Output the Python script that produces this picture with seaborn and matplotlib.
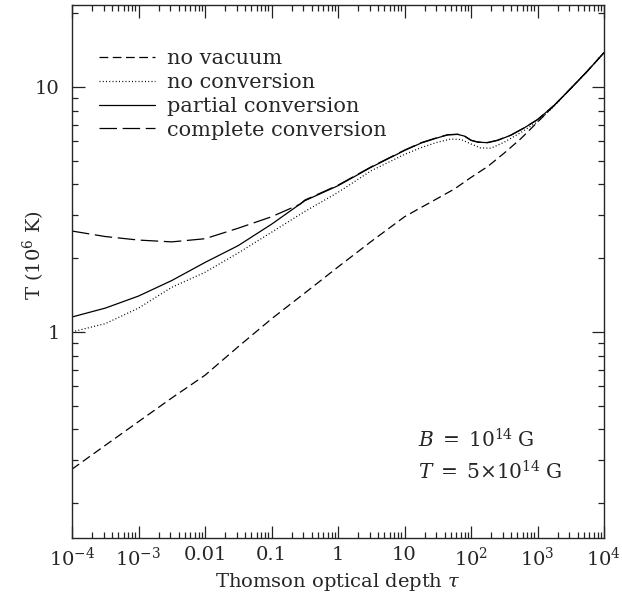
import numpy as np
import pandas as pd
import matplotlib
matplotlib.use("Agg")
import matplotlib.pyplot as plt
import seaborn as sns
from matplotlib.ticker import FixedLocator, FixedFormatter, LogLocator, NullFormatter

# ---------------- data ----------------
log_tau_novac = [-4, -3.5, -3, -2.5, -2, -1.5, -1, -0.5, 0, 0.5, 1, 1.25, 1.5, 1.75, 2, 2.25, 2.5, 2.75, 3, 3.25, 3.5, 3.75, 4]
T_novac = [0.275, 0.344, 0.43, 0.537, 0.665, 0.87, 1.13, 1.44, 1.84, 2.34, 2.95, 3.22, 3.51, 3.83, 4.27, 4.73, 5.37, 6.15, 7.18, 8.4, 9.85, 11.6, 13.8]

log_tau_nocon = [-4, -3.5, -3, -2.5, -2, -1.5, -1, -0.5, 0, 0.5, 1, 1.25, 1.5, 1.7, 1.85, 2.0, 2.14, 2.3, 2.5, 2.74, 3.0, 3.25, 3.5, 3.75, 4]
T_nocon = [1.0, 1.08, 1.25, 1.52, 1.75, 2.1, 2.55, 3.1, 3.71, 4.55, 5.3, 5.65, 5.95, 6.13, 6.1, 5.85, 5.64, 5.62, 5.95, 6.49, 7.2, 8.35, 9.85, 11.6, 13.8]

log_tau_part = [-4, -3.5, -3, -2.5, -2, -1.5, -1, -0.5, 0, 0.5, 1, 1.25, 1.5, 1.65, 1.8, 1.9, 2.0, 2.1, 2.25, 2.4, 2.6, 2.8, 3.0, 3.25, 3.5, 3.75, 4]
T_part = [1.15, 1.25, 1.4, 1.62, 1.92, 2.25, 2.75, 3.43, 3.95, 4.7, 5.5, 5.9, 6.2, 6.37, 6.4, 6.3, 6.05, 5.95, 5.92, 6.05, 6.35, 6.8, 7.35, 8.4, 9.85, 11.6, 13.8]

log_tau_comp = [-4, -3.5, -3, -2.5, -2, -1.5, -1, -0.57, -0.5, 0, 0.5, 1, 1.25, 1.5, 1.65, 1.8, 1.9, 2.0, 2.1, 2.25, 2.4, 2.6, 2.8, 3.0, 3.25, 3.5, 3.75, 4]
T_comp = [2.58, 2.45, 2.37, 2.33, 2.4, 2.65, 2.95, 3.32, 3.45, 3.97, 4.72, 5.52, 5.92, 6.22, 6.38, 6.41, 6.31, 6.06, 5.96, 5.93, 6.06, 6.36, 6.81, 7.36, 8.41, 9.86, 11.6, 13.8]

series_labels = ["no vacuum", "no conversion", "partial conversion", "complete conversion"]

x_ticks = [1e-4, 1e-3, 1e-2, 1e-1, 1, 10, 100, 1e3, 1e4]
x_ticklabels = [r"$10^{-4}$", r"$10^{-3}$", "0.01", "0.1", "1", "10", r"$10^{2}$", r"$10^{3}$", r"$10^{4}$"]
y_ticks = [1, 10]
y_ticklabels = ["1", "10"]

# ---------------- style ----------------
sns.set_style("ticks")
plt.rcParams["font.family"] = ["DejaVu Serif"]
plt.rcParams["mathtext.fontset"] = "dejavuserif"
plt.rcParams["axes.linewidth"] = 1.0

fig = plt.figure(figsize=(6.22, 5.97), dpi=100)
ax = fig.add_axes([72 / 622, 1 - 538 / 597, 532 / 622, 533 / 597])

styles = [
    (0, (7.0, 3.6)),
    (0, (0.8, 1.8)),
    "-",
    (0, (14.0, 4.5)),
]
series = [
    (log_tau_novac, T_novac),
    (log_tau_nocon, T_nocon),
    (log_tau_part, T_part),
    (log_tau_comp, T_comp),
]
for (lt, tv), lab, ls in zip(series, series_labels, styles):
    df = pd.DataFrame({"tau": np.power(10.0, lt), "T": tv})
    sns.lineplot(data=df, x="tau", y="T", ax=ax, color="black", linewidth=0.9,
                 linestyle=ls, label=lab, estimator=None, sort=False)

ax.set_xscale("log")
ax.set_yscale("log")
ax.set_xlim(1e-4, 1e4)
ax.set_ylim(0.144, 21.6)

ax.xaxis.set_major_locator(FixedLocator(x_ticks))
ax.xaxis.set_major_formatter(FixedFormatter(x_ticklabels))
ax.xaxis.set_minor_locator(LogLocator(base=10, subs=np.arange(2, 10), numticks=20))
ax.xaxis.set_minor_formatter(NullFormatter())
ax.yaxis.set_major_locator(FixedLocator(y_ticks))
ax.yaxis.set_major_formatter(FixedFormatter(y_ticklabels))
ax.yaxis.set_minor_locator(LogLocator(base=10, subs=np.arange(2, 10), numticks=20))
ax.yaxis.set_minor_formatter(NullFormatter())

ax.tick_params(which="both", direction="in", top=True, right=True, width=0.9, color="#222222")
ax.tick_params(which="major", length=9, labelsize=14)
ax.tick_params(axis="x", which="major", pad=6)
ax.tick_params(axis="y", which="major", pad=9)
ax.tick_params(which="minor", length=4.5)

ax.set_xlabel(r"Thomson optical depth $\tau$", fontsize=14, labelpad=1)
ax.set_ylabel(r"T (10$^{6}$ K)", fontsize=14)
ax.yaxis.set_label_coords(-0.047, 0.531)

leg = ax.legend(loc="upper left", bbox_to_anchor=(0.05, 0.917), frameon=False,
                fontsize=15, handlelength=2.7, handletextpad=0.56,
                labelspacing=0.23, borderpad=0, borderaxespad=0)

ax.text(0.650, 0.184, r"$B\;=\;10^{14}\;\mathrm{G}$", transform=ax.transAxes,
        fontsize=14.5, va="center", ha="left")
ax.text(0.650, 0.124, r"$T\;=\;5{\times}10^{14}\;\mathrm{G}$", transform=ax.transAxes,
        fontsize=14.5, va="center", ha="left")

fig.savefig("out.png", dpi=100)
